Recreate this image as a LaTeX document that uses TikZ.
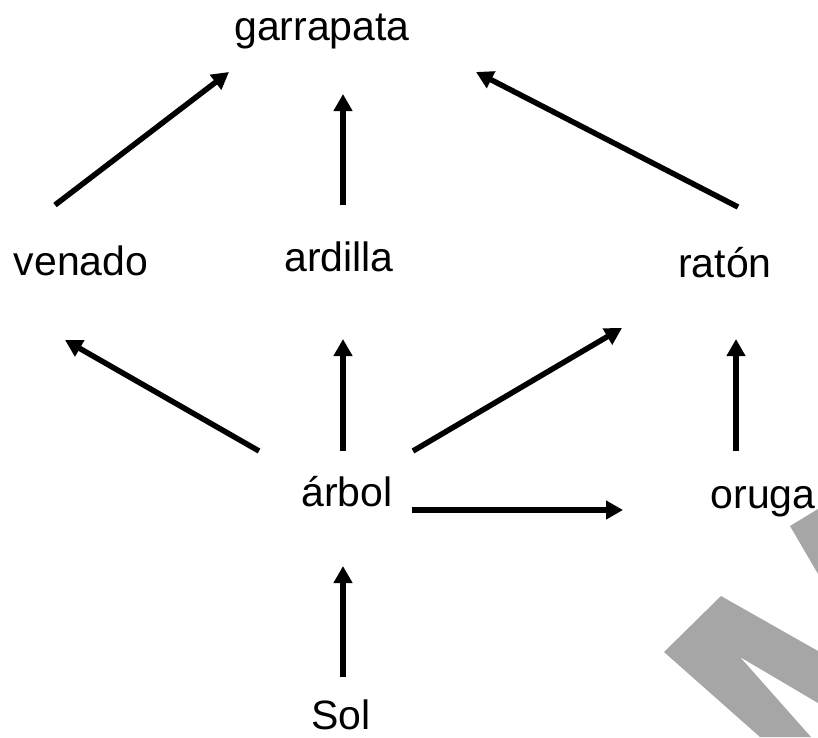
\documentclass[tikz,border=0pt]{standalone}
\usepackage{fontspec}
\setmainfont{Liberation Sans}
\usetikzlibrary{arrows.meta}
\tikzset{
  lbl/.style={inner sep=0pt, anchor=base, font=\fontsize{41}{49}\selectfont},
  conn/.style={line width=5.5pt, -{Triangle[length=17pt,width=18pt]}},
  wmark/.style={fill=black!35, draw=none}
}
\begin{document}
\begin{tikzpicture}[x=1pt,y=-1pt]
\useasboundingbox (0,0) rectangle (818,737);
% watermark
\fill[wmark] (790,526) -- (818,509) -- (818,574) -- cycle;
\fill[wmark] (664,652) -- (721,596) -- (818,651) -- (818,703) -- (740,657) -- (811,737) -- (760,737) -- cycle;
% labels
\node[lbl] (garrapata) at (322,40) {garrapata};
\node[lbl] (venado) at (81,275) {venado};
\node[lbl] (ardilla) at (339,271) {ardilla};
\node[lbl] (raton) at (725,277) {ratón};
\node[lbl] (arbol) at (347,506) {árbol};
\node[lbl] (oruga) at (763,508) {oruga};
\node[lbl] (sol) at (341,729) {Sol};
% arrow end points
\coordinate (vg1) at (55,205);  \coordinate (vg2) at (229,72);
\coordinate (ag1) at (343,205); \coordinate (ag2) at (343,94);
\coordinate (rg1) at (738,207); \coordinate (rg2) at (476,72);
\coordinate (bv1) at (259,451); \coordinate (bv2) at (65,340);
\coordinate (ba1) at (343,451); \coordinate (ba2) at (343,339);
\coordinate (br1) at (413,451); \coordinate (br2) at (622,328);
\coordinate (bo1) at (412,510); \coordinate (bo2) at (623,510);
\coordinate (or1) at (736,451); \coordinate (or2) at (736,339);
\coordinate (sb1) at (343,677); \coordinate (sb2) at (343,566);
% connectors
\draw[conn] (vg1) -- (vg2);
\draw[conn] (ag1) -- (ag2);
\draw[conn] (rg1) -- (rg2);
\draw[conn] (bv1) -- (bv2);
\draw[conn] (ba1) -- (ba2);
\draw[conn] (br1) -- (br2);
\draw[conn] (bo1) -- (bo2);
\draw[conn] (or1) -- (or2);
\draw[conn] (sb1) -- (sb2);
\end{tikzpicture}
\end{document}
